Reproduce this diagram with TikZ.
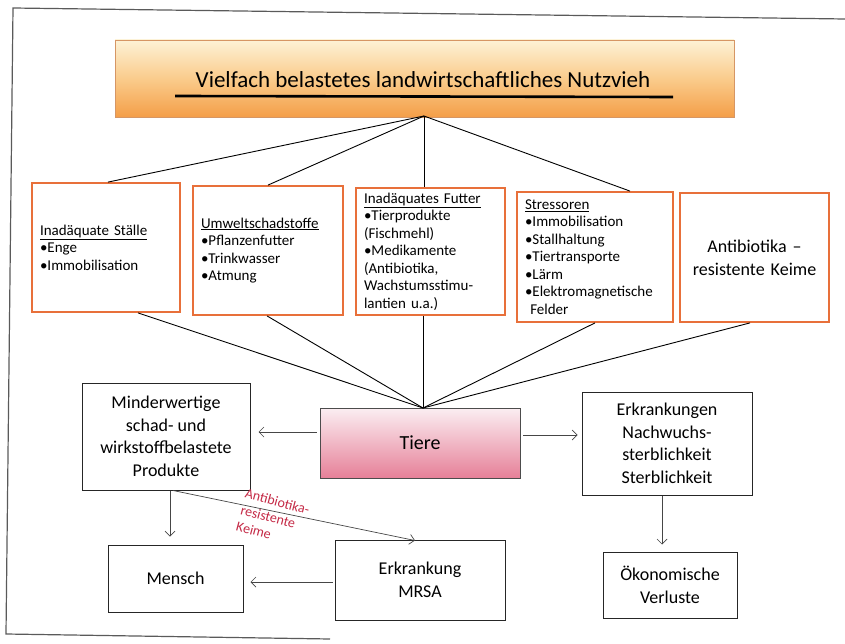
\documentclass[tikz,border=0pt]{standalone}
\usepackage{fontspec}
\setmainfont{Carlito}
\usetikzlibrary{arrows.meta}
\definecolor{obord}{RGB}{232,112,58}
\definecolor{tbord}{RGB}{214,150,100}
\definecolor{ttop}{RGB}{253,242,214}
\definecolor{tmid}{RGB}{250,204,140}
\definecolor{tbot}{RGB}{244,158,72}
\definecolor{ptop}{RGB}{251,238,242}
\definecolor{pbot}{RGB}{230,128,152}
\definecolor{redlab}{RGB}{196,42,70}
\definecolor{framec}{RGB}{90,90,90}
\definecolor{arrc}{RGB}{70,70,70}
\tikzset{
  obox/.style={draw=obord, line width=1.8pt, rectangle, inner xsep=8pt, inner ysep=2pt, align=left,
    font=\fontsize{15}{17.5}\selectfont},
  bbox/.style={draw=black!85, line width=1pt, rectangle, align=center,
    font=\fontsize{18}{22.5}\selectfont},
  conn/.style={draw=black, line width=0.9pt},
  arr/.style={draw=arrc, line width=0.7pt, -{Straight Barb[length=5pt,width=10pt]}},
}
\begin{document}
\begin{tikzpicture}[x=1pt,y=-1pt]
\useasboundingbox (0,0) rectangle (845,644);
% frame
\draw[framec, line width=1.2pt] (845,19) -- (13,8) -- (6,634) -- (330,639);
% title
\node[draw=tbord, line width=0.6pt, top color=ttop, bottom color=tbot, middle color=tmid,
  minimum width=619pt, minimum height=77pt, inner sep=0pt] (title) at (424.5,78.5) {};
\node[font=\fontsize{23}{26}\selectfont, anchor=base] (titletext) at (423,88) {Vielfach belastetes landwirtschaftliches Nutzvieh};
\coordinate (ulA) at (175,96);
\coordinate (ulB) at (673,97);
\draw[line width=2.6pt] (ulA) -- (ulB);
\coordinate (apex) at (424,116);
% row of causes
\node[obox, text width=132pt, minimum height=129pt] (b1) at (106,247.5)
  {\underline{Inadäquate Ställe}\\•Enge\\•Immobilisation};
\node[obox, text width=134pt, minimum height=129pt] (b2) at (268,250.5)
  {\underline{Umweltschadstoffe}\\•Pflanzenfutter\\•Trinkwasser\\•Atmung};
\node[obox, text width=133pt, minimum height=127pt] (b3) at (430.5,251.5)
  {\underline{Inadäquates Futter}\\•Tierprodukte\\(Fischmehl)\\•Medikamente\\(Antibiotika,\\Wachstumsstimu-\\lantien u.a.)};
\node[obox, text width=140pt, minimum height=130pt] (b4) at (595,257)
  {\underline{Stressoren}\\•Immobilisation\\•Stallhaltung\\•Tiertransporte\\•Lärm\\•Elektromagnetische\\\hspace*{0.35em}Felder};
\node[obox, align=center, text width=133pt, minimum height=129pt, font=\fontsize{18}{23}\selectfont] (b5) at (754.5,257.5)
  {Antibiotika –\\resistente Keime};
% lines from title
\draw[conn] (apex) -- (b1.north -| 108,0);
\draw[conn] (apex) -- (b2.north -| 268,0);
\draw[conn] (apex) -- (b3.north -| apex);
\draw[conn] (apex) -- (b4.north -| 630,0);
% Tiere
\node[draw=black!70, line width=0.8pt, top color=ptop, bottom color=pbot, minimum width=200pt, minimum height=70pt,
  font=\fontsize{20}{24}\selectfont] (tiere) at (420,443) {Tiere};
\coordinate (tapex) at (423,408);
\draw[conn] (b1.south -| 138,0) -- (tapex);
\draw[conn] (b2.south -| 267,0) -- (tapex);
\draw[conn] (b3.south -| tapex) -- (tapex);
\draw[conn] (b4.south -| 595,0) -- (tapex);
\draw[conn] (b5.south -| 750,0) -- (tapex);
% bottom boxes
\node[bbox, minimum width=168pt, minimum height=107pt] (mind) at (166,436.5)
  {Minderwertige\\schad- und\\wirkstoffbelastete\\Produkte};
\node[bbox, minimum width=170pt, minimum height=103pt] (erk) at (667,443.5)
  {Erkrankungen\\Nachwuchs-\\sterblichkeit\\Sterblichkeit};
\node[bbox, minimum width=135pt, minimum height=67pt] (mensch) at (175.5,578.5) {Mensch};
\node[bbox, minimum width=170pt, minimum height=80pt] (mrsa) at (420,580) {Erkrankung\\MRSA};
\node[bbox, minimum width=134pt, minimum height=66pt] (oek) at (670,585) {Ökonomische\\Verluste};
% arrows
\draw[arr] ([xshift=-3pt]tiere.west |- 0,432) -- ([xshift=8pt]mind.east |- 0,432);
\draw[arr] ([xshift=3pt]tiere.east |- 0,435) -- ([xshift=-4pt]erk.west |- 0,435);
\draw[arr] (mind.south -| 170,0) -- ([yshift=8pt]mensch.north -| 170,0);
\draw[arr] (mind.south -| 173,0) -- ([yshift=-1pt]mrsa.north -| 415,0);
\draw[arr] ([xshift=-2pt]mrsa.west |- 0,582) -- ([xshift=7pt]mensch.east |- 0,582);
\draw[arr] (erk.south -| 662,0) -- ([yshift=7pt]oek.north -| 662,0);
% red label
\node[text=redlab, rotate=-15, align=left, font=\fontsize{14}{17}\selectfont] (keime) at (273,518)
  {Antibiotika-\\resistente\\Keime};
\end{tikzpicture}
\end{document}
